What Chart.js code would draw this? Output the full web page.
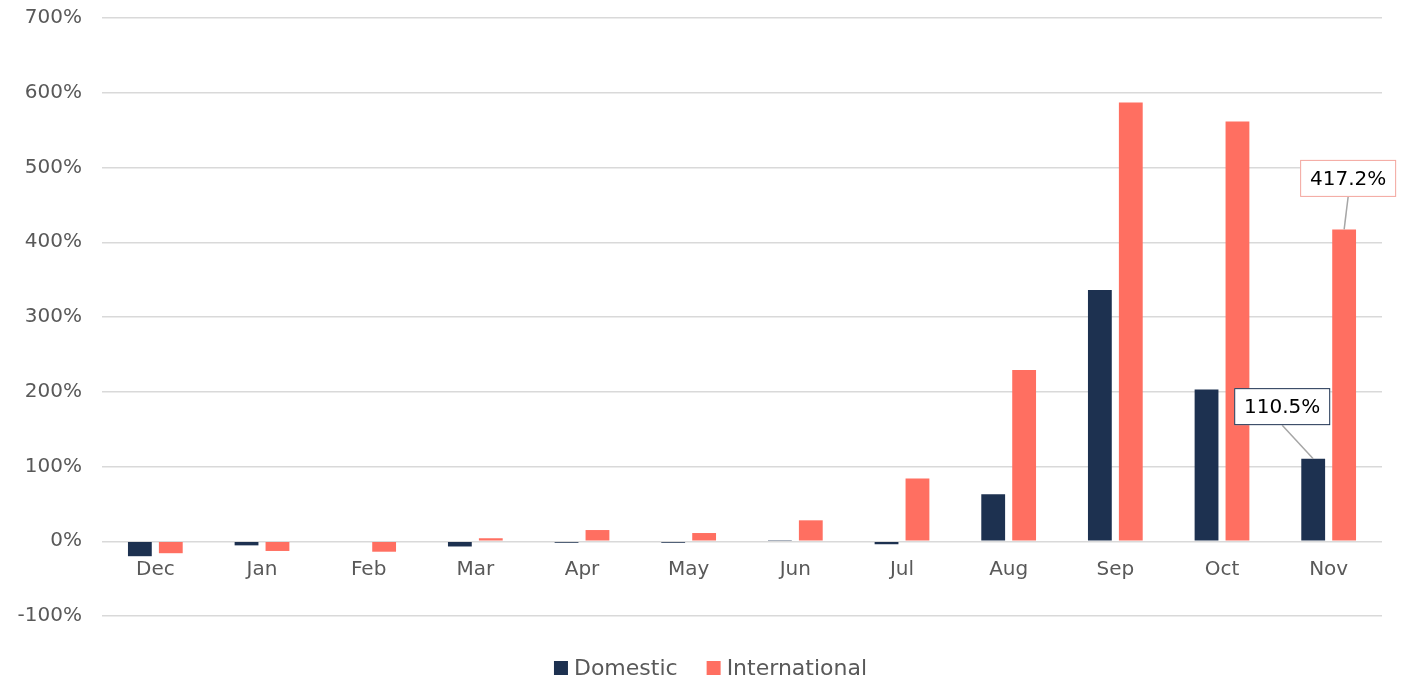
<!DOCTYPE html>
<html>
<head>
<meta charset="utf-8">
<script src="https://cdn.jsdelivr.net/npm/chart.js@4.4.1/dist/chart.umd.min.js"></script>
<style>
  html, body { margin: 0; padding: 0; background: #ffffff; }
  #wrap { width: 1407px; height: 681px; position: relative; }
</style>
</head>
<body>
<div id="wrap"><canvas id="chart"></canvas></div>
<script>
// Month-on-month change, %
const months = ['Dec', 'Jan', 'Feb', 'Mar', 'Apr', 'May', 'Jun', 'Jul', 'Aug', 'Sep', 'Oct', 'Nov'];
const domestic = [-20, -5.5, -1, -7, -2, -2, 0.5, -4, 63, 336, 203, 110.5];
const international = [-16, -13, -14, 4, 15, 11, 28, 84, 229, 587, 561.5, 417.2];
const yTicks = [-100, 0, 100, 200, 300, 400, 500, 600, 700];

// Callout labels: dataset index, category index, text
const callouts = [
  { ds: 1, idx: 11, text: '417.2%', border: '#f3a59d', dx: 4, dy: -51 },
  { ds: 0, idx: 11, text: '110.5%', border: '#1d3150', dx: -31, dy: -52 }
];

const NAVY = '#1d3150';
const CORAL = '#ff6f61';
const FONT = "'DejaVu Sans', sans-serif";

// Category labels sit just below the zero line
const zeroLineLabels = {
  id: 'zeroLineLabels',
  afterDatasetsDraw(chart) {
    const { ctx, scales: { x, y } } = chart;
    const y0 = y.getPixelForValue(0);
    ctx.save();
    ctx.font = '20px ' + FONT;
    ctx.fillStyle = '#595959';
    ctx.textAlign = 'center';
    ctx.textBaseline = 'middle';
    months.forEach((m, i) => {
      ctx.fillText(m, x.getPixelForValue(i), y0 + 29);
    });
    ctx.restore();
  }
};

// Boxed value labels with a leader line to the bar top
const calloutPlugin = {
  id: 'calloutPlugin',
  afterDatasetsDraw(chart) {
    const { ctx } = chart;
    ctx.save();
    ctx.font = '20px ' + FONT;
    callouts.forEach(c => {
      const bar = chart.getDatasetMeta(c.ds).data[c.idx];
      const bx = bar.x, by = bar.y;
      const cx = bx + c.dx, cy = by + c.dy;
      const w = 96, h = 37;
      // leader line
      ctx.strokeStyle = '#a6a6a6';
      ctx.lineWidth = 1.5;
      ctx.beginPath();
      ctx.moveTo(cx, cy + h / 2);
      ctx.lineTo(bx, by);
      ctx.stroke();
      // box
      ctx.fillStyle = '#ffffff';
      ctx.fillRect(cx - w / 2, cy - h / 2, w, h);
      ctx.strokeStyle = c.border;
      ctx.lineWidth = 1;
      ctx.strokeRect(cx - w / 2 + 0.5, cy - h / 2 + 0.5, w - 1, h - 1);
      // text
      ctx.fillStyle = '#000000';
      ctx.textAlign = 'center';
      ctx.textBaseline = 'middle';
      ctx.fillText(c.text, cx, cy + 1);
    });
    ctx.restore();
  }
};

// Compact legend row under the plot
const bottomLegend = {
  id: 'bottomLegend',
  afterDraw(chart) {
    const { ctx } = chart;
    const box = 14, gapText = 6, gapItem = 29, cy = chart.height - 13;
    ctx.save();
    ctx.font = '22px ' + FONT;
    ctx.textBaseline = 'middle';
    ctx.textAlign = 'left';
    const items = chart.data.datasets.map(d => ({
      label: d.label, color: d.backgroundColor,
      w: box + gapText + ctx.measureText(d.label).width
    }));
    const total = items.reduce((s, it) => s + it.w, 0) + gapItem * (items.length - 1);
    let x = chart.width / 2 + 7 - total / 2;
    items.forEach(it => {
      ctx.fillStyle = it.color;
      ctx.fillRect(x, cy - box / 2, box, box);
      ctx.fillStyle = '#595959';
      ctx.fillText(it.label, x + box + gapText, cy + 1);
      x += it.w + gapItem;
    });
    ctx.restore();
  }
};

new Chart(document.getElementById('chart'), {
  type: 'bar',
  data: {
    labels: months,
    datasets: [
      { label: 'Domestic', data: domestic, backgroundColor: NAVY },
      { label: 'International', data: international, backgroundColor: CORAL }
    ]
  },
  options: {
    responsive: true,
    maintainAspectRatio: false,
    animation: false,
    categoryPercentage: 0.58,
    barPercentage: 0.77,
    layout: { padding: { top: 18, right: 25, bottom: 65, left: 0 } },
    plugins: {
      legend: { display: false },
      tooltip: { enabled: false }
    },
    scales: {
      x: {
        grid: { display: false },
        border: { display: false },
        ticks: { display: false },
        afterFit(scale) { scale.height = 0; }
      },
      y: {
        min: -100,
        max: 700,
        afterBuildTicks(scale) {
          scale.ticks = yTicks.map(v => ({ value: v }));
        },
        afterFit(scale) {
          scale.width = 102;
          scale.paddingTop = 0;
          scale.paddingBottom = 0;
        },
        grid: { color: '#d9d9d9', lineWidth: 1.5, drawTicks: false },
        border: { display: false },
        ticks: {
          font: { family: FONT, size: 20 },
          color: '#595959',
          padding: 20,
          callback: v => v + '%'
        }
      }
    }
  },
  plugins: [zeroLineLabels, calloutPlugin, bottomLegend]
});
</script>
</body>
</html>
